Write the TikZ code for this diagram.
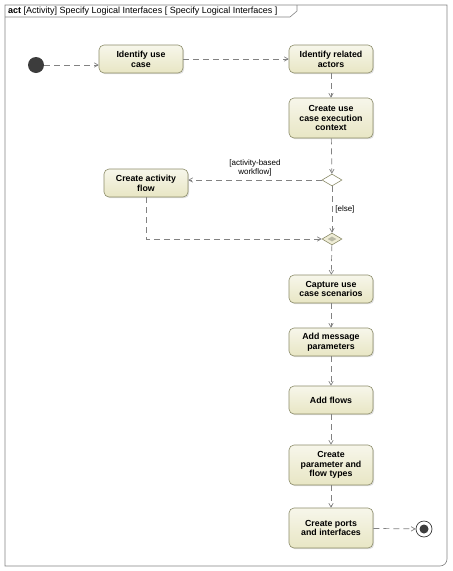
\documentclass[tikz,border=0pt]{standalone}
\usepackage{fontspec}
\setmainfont{Liberation Sans}
\usetikzlibrary{shapes.geometric, arrows, shadows}
\definecolor{actbeige}{RGB}{232, 230, 196}
\definecolor{actborder}{RGB}{140, 140, 105}
\definecolor{flowgray}{RGB}{130, 130, 130}
\definecolor{startdark}{RGB}{60, 60, 60}
\tikzset{
  action/.style={rectangle, rounded corners=5pt, minimum width=84pt,
    minimum height=28pt, align=center, draw=actborder,
    line width=0.6pt, top color=actbeige!35, bottom color=actbeige,
    drop shadow={shadow xshift=1.2pt, shadow yshift=-1.2pt, opacity=0.25},
    font=\fontsize{8.8}{9.8}\selectfont\bfseries, inner sep=1pt},
  branch/.style={diamond, minimum width=20pt, minimum height=12pt,
    inner sep=0pt, draw=actborder, line width=0.6pt, fill=white},
  guard/.style={font=\fontsize{8}{9.2}\selectfont, align=center, inner sep=1pt,
    text=black},
  flow/.style={->,>=angle 60,color=flowgray,line width=0.7pt,
    dash pattern=on 6pt off 4pt}
}
\begin{document}
\begin{tikzpicture}[x=1pt, y=-1pt]
\useasboundingbox (0,0) rectangle (453,571);
% frame and title tab
\draw[color=flowgray, line width=0.6pt] (447,5) -- (447,550) [rounded corners=7pt]
  -- (447,566) -- (420,566) [sharp corners] -- (5,566) -- (5,5) -- cycle;
\draw[color=flowgray, line width=0.6pt] (5,17) -- (290,17) -- (297,11) -- (297,5);
\node (title) [anchor=west, font=\fontsize{9}{9}\selectfont, inner sep=0pt] at (8,11)
  {\textbf{act} [Activity] Specify Logical Interfaces [ Specify Logical Interfaces ]};

% start and end
\node (start) [circle, fill=startdark, minimum size=16pt, inner sep=0pt] at (36,65) {};
\node (final) [circle, draw=startdark, line width=0.7pt, fill=white,
  minimum size=16pt, inner sep=0pt] at (424,529) {};
\node (finaldot) [circle, fill=startdark, minimum size=9pt, inner sep=0pt] at (final) {};

% actions
\node (usecase) [action] at (141,59) {Identify use\\case};
\node (actors)  [action] at (331,59) {Identify related\\actors};
\node (context) [action, minimum height=40pt] at (331,118) {Create use\\case execution\\context};
\node (actflow) [action] at (146,183) {Create activity\\flow};
\node (scenario) [action] at (331,289) {Capture use\\case scenarios};
\node (msgpar)  [action] at (331,342) {Add message\\parameters};
\node (addflow) [action] at (331,400) {Add flows};
\node (types)   [action, minimum height=40pt] at (331,465) {Create\\parameter and\\flow types};
\node (ports)   [action, minimum height=40pt] at (331,528) {Create ports\\and interfaces};

% decision and merge
\node (decide) [branch] at (332,180) {};
\node (merge)  [branch, fill=actbeige!70] at (332,239) {};
\node (mergein) [diamond, fill=actborder!60, minimum width=9pt, minimum height=5pt,
  inner sep=0pt] at (merge) {};

% flows
\draw[flow] (start)   -- (start -| usecase.west);
\draw[flow] (usecase) -- (actors);
\draw[flow] (actors)  -- (context);
\draw[flow] (context) -- (decide);
\draw[flow] (decide.west) -- (decide.west -| actflow.east)
  node [guard, midway, above=2pt] {[activity-based\\workflow]};
\draw[flow] (decide)  -- (merge) node [guard, midway, right=2pt] {[else]};
\draw[flow] (actflow.south) |- (merge.west);
\draw[flow] (merge)   -- (scenario);
\draw[flow] (scenario) -- (msgpar);
\draw[flow] (msgpar)  -- (addflow);
\draw[flow] (addflow) -- (types);
\draw[flow] (types)   -- (ports);
\draw[flow] (ports)   -- (final);
\end{tikzpicture}
\end{document}
